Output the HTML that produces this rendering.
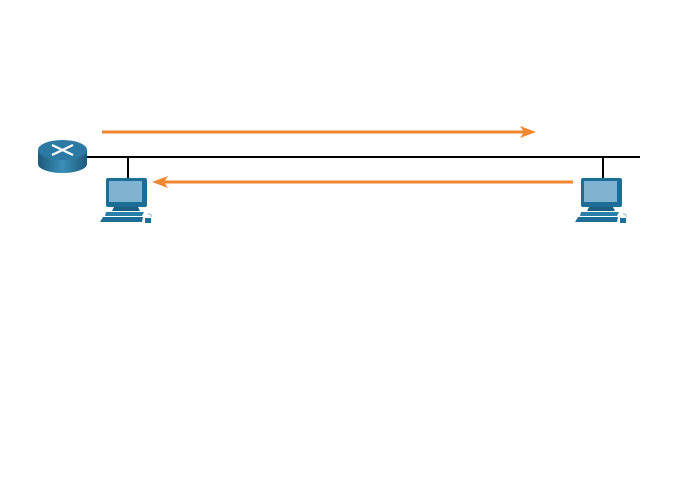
<!DOCTYPE html>
<html><head><style>body{margin:0;background:#fff}svg{display:block}</style></head><body>
<svg width="680" height="490" viewBox="0 0 680 490" xmlns="http://www.w3.org/2000/svg">
<defs>
<linearGradient id="rb" x1="0" x2="1"><stop offset="0" stop-color="#1d5a7c"/><stop offset="0.5" stop-color="#3a8fb8"/><stop offset="1" stop-color="#1d5a7c"/></linearGradient>
<symbol id="pc" viewBox="0 0 54 46">
<rect x="6" y="0" width="41" height="29" rx="2" fill="#1c6e96"/>
<rect x="9" y="3" width="33" height="21" fill="#7fb3d1"/>
<path d="M14 29 H38 L40 33 H12 Z" fill="#1a5f82"/>
<path d="M6 34 H44 L42 38 H5 Z" fill="#2a7fa8"/>
<path d="M3 39 H43 L42 44 H0 Z" fill="#1c6e96"/>
<rect x="45" y="40" width="6" height="5" fill="#1c6e96"/>
<path d="M48 36 q4 0 3 3" stroke="#8fb5c9" fill="none" stroke-width="1"/>
</symbol>
</defs>
<line x1="87" y1="157" x2="640" y2="157" stroke="#000" stroke-width="2"/>
<line x1="128" y1="157" x2="128" y2="179" stroke="#000" stroke-width="2"/>
<line x1="603" y1="157" x2="603" y2="179" stroke="#000" stroke-width="2"/>
<path d="M38 150 V164 A24.5 9 0 0 0 87 164 V150 Z" fill="url(#rb)"/>
<ellipse cx="62.5" cy="150" rx="24.5" ry="10" fill="#2c7aa3"/>
<g stroke="#fff" stroke-width="2.2"><line x1="52" y1="145" x2="73" y2="155"/><line x1="52" y1="155" x2="73" y2="145"/></g>
<use href="#pc" x="100" y="178" width="54" height="46"/>
<use href="#pc" x="575" y="178" width="54" height="46"/>
<line x1="102" y1="132" x2="526" y2="132" stroke="#f0862e" stroke-width="3"/>
<path d="M536 132 L520 126 L524 132 L520 138 Z" fill="#f0862e"/>
<line x1="573" y1="182" x2="162" y2="182" stroke="#f0862e" stroke-width="3"/>
<path d="M152 182 L168 176 L164 182 L168 188 Z" fill="#f0862e"/>
</svg>
</body></html>
